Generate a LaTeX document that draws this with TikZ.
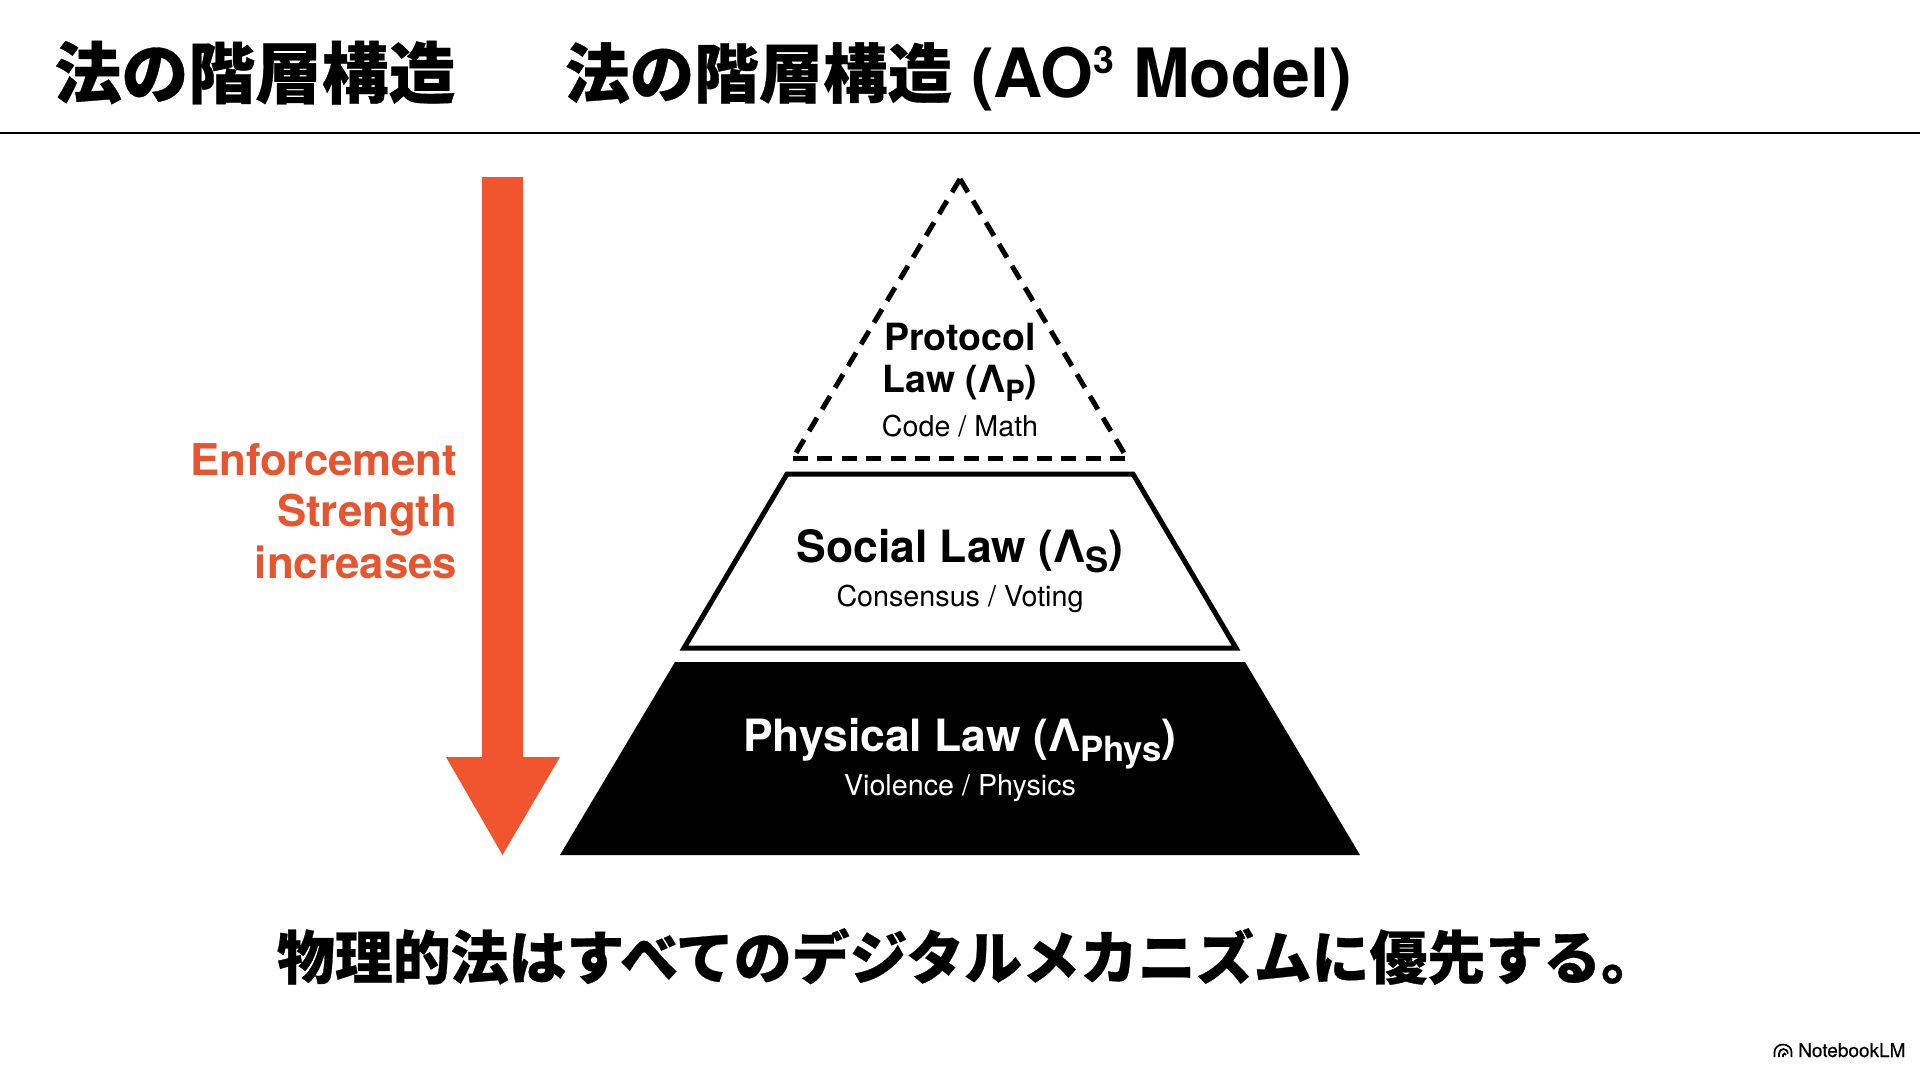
\documentclass[tikz,border=0pt]{standalone}
\usepackage{fontspec}
\setmainfont{TeX Gyre Heros}
\newfontfamily\cjk[BoldFont={Noto Sans CJK JP Black},BoldFeatures={FakeBold=0.5}]{Noto Sans CJK JP}
\newfontfamily\brandfont[FakeBold=0.25]{TeX Gyre Heros}
\definecolor{arroworange}{HTML}{F05530}
\definecolor{strengthorange}{HTML}{E6552F}
\newcommand{\lawsub}[1]{\raisebox{-.24em}{\scalebox{.78}{#1}}}
\tikzset{
  headline/.style={anchor=base west,inner sep=0pt,font=\fontsize{68}{70}\selectfont\bfseries},
  lawname/.style={anchor=base,inner sep=0pt,align=center,font=\fontsize{44.5}{50}\selectfont\bfseries},
  lawnote/.style={anchor=base,inner sep=0pt,font=\fontsize{28.7}{32}\selectfont},
  dashside/.style={line width=5pt,dash pattern=on 15.5pt off 9.8pt},
}
\begin{document}
\begin{tikzpicture}[x=1pt,y=-1pt]
\useasboundingbox (0,0) rectangle (1920,1072);
% header
\node[headline,font=\fontsize{66.8}{70}\selectfont] (titleleft) at (54.5,98) {\cjk\bfseries 法の階層構造};
\node[headline] (titleright) at (565,97.5) {{\cjk\fontsize{64.5}{70}\selectfont\bfseries 法の階層構造} (AO\raisebox{.36em}{\scalebox{.55}{3}} Model)};
\draw[line width=2.2pt] (0,133) -- (1920,133);
% strength arrow
\fill[arroworange] (482,177) -- (523,177) -- (523,757) -- (560,757) -- (502.5,855) -- (446,757) -- (482,757) -- cycle;
\node[anchor=base east,inner sep=0pt,align=right,text=strengthorange,font=\fontsize{43.8}{51.5}\selectfont\bfseries] (strength) at (457.5,578) {Enforcement\\Strength\\increases};
% pyramid
\coordinate (apex) at (960,179);
\coordinate (baseleft) at (793,458);
\coordinate (baseright) at (1127,458);
\draw[dashside] (apex) -- (baseleft);
\draw[dashside] (apex) -- (baseright);
\draw[dashside,dash pattern=on 15pt off 9.4pt] (baseleft) -- (baseright);
\draw[line width=5pt,line join=miter] (787,474) -- (1133,474) -- (1236,648) -- (684,648) -- cycle;
\fill (675,662) -- (1245,662) -- (1360,855) -- (560,855) -- cycle;
\node[lawname,font=\fontsize{37.5}{42}\selectfont\bfseries] (protocol) at (960,392) {Protocol\\Law (Λ\lawsub{P})};
\node[lawnote] (protocolnote) at (960,436) {Code / Math};
\node[lawname] (social) at (960,562) {Social Law (Λ\lawsub{S})};
\node[lawnote] (socialnote) at (960,606) {Consensus / Voting};
\node[lawname,text=white] (physical) at (960,751) {Physical Law (Λ\lawsub{Phys})};
\node[lawnote,text=white] (physicalnote) at (960,795) {Violence / Physics};
% footer
\node[anchor=base,inner sep=0pt,font=\fontsize{57.9}{60}\selectfont] (claim) at (968,979) {\cjk\bfseries 物理的法はすべてのデジタルメカニズムに優先する。};
\node[anchor=base west,inner sep=0pt,font=\fontsize{19}{22}\selectfont] (brand) at (1798,1057) {\brandfont NotebookLM};
\draw[line width=1.7pt] (1774.5,1057) -- (1774.5,1052) arc (180:360:8.5 and 7.5) -- (1791.5,1057)
  (1779,1057) -- (1779,1053.5) arc (180:360:4.5) (1783,1057) -- (1783,1055) arc (180:360:1.5);
\end{tikzpicture}
\end{document}
